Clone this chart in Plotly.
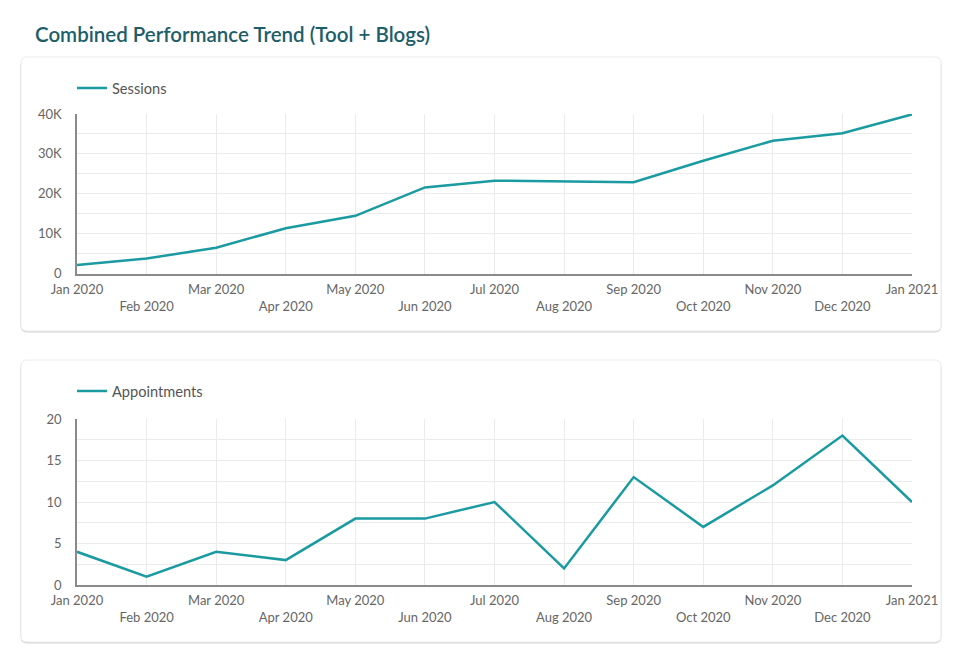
import plotly.graph_objects as go

months = ["Jan 2020", "Feb 2020", "Mar 2020", "Apr 2020", "May 2020", "Jun 2020",
          "Jul 2020", "Aug 2020", "Sep 2020", "Oct 2020", "Nov 2020", "Dec 2020", "Jan 2021"]
sessions = [2200, 3800, 6500, 11400, 14500, 21600, 23300, 23100, 22900, 28300, 33300, 35200, 39900]
appointments = [4, 1, 4, 3, 8, 8, 10, 2, 13, 7, 12, 18, 10]
session_ticks = [0, 10000, 20000, 30000, 40000]
session_ticktext = ["0", "10K", "20K", "30K", "40K"]
appt_ticks = [0, 5, 10, 15, 20]

W, H = 957, 661
LINE = "#1a9aa1"
FONT = "Lato"

def px(x):
    return x / W

def py(y):
    return 1 - y / H

tick_text = [m if i % 2 == 0 else "<br>" + m for i, m in enumerate(months)]

fig = go.Figure()
fig.add_trace(go.Scatter(x=months, y=sessions, mode="lines", name="Sessions",
                         line=dict(color=LINE, width=2.5), xaxis="x", yaxis="y",
                         legend="legend"))
fig.add_trace(go.Scatter(x=months, y=appointments, mode="lines", name="Appointments",
                         line=dict(color=LINE, width=2.5), xaxis="x2", yaxis="y2",
                         legend="legend2"))

def card_path(x0, y0, x1, y1, r=6):
    X = lambda v: f"{px(v):.5f}"
    Y = lambda v: f"{py(v):.5f}"
    return (f"M {X(x0+r)} {Y(y0)} L {X(x1-r)} {Y(y0)} Q {X(x1)} {Y(y0)} {X(x1)} {Y(y0+r)} "
            f"L {X(x1)} {Y(y1-r)} Q {X(x1)} {Y(y1)} {X(x1-r)} {Y(y1)} "
            f"L {X(x0+r)} {Y(y1)} Q {X(x0)} {Y(y1)} {X(x0)} {Y(y1-r)} "
            f"L {X(x0)} {Y(y0+r)} Q {X(x0)} {Y(y0)} {X(x0+r)} {Y(y0)} Z")

shapes = []
for (x0, y0, x1, y1) in [(21, 57, 941, 331), (21, 360, 941, 642)]:
    shapes.append(dict(type="path", path=card_path(x0 - 0.5, y0 + 0.5, x1 + 0.5, y1 + 1.5, 7),
                       xref="paper", yref="paper", fillcolor="#d4d4d4",
                       line=dict(width=0), layer="below"))
    shapes.append(dict(type="path", path=card_path(x0, y0, x1, y1, 6),
                       xref="paper", yref="paper", fillcolor="#ffffff",
                       line=dict(color="#ececec", width=1), layer="below"))

xaxis_common = dict(
    type="category", range=[0, 12], tickmode="array", tickvals=months, ticktext=tick_text,
    showgrid=True, gridcolor="#ebebeb", gridwidth=1, showline=True, linecolor="#8a8a8a",
    linewidth=1.5, ticks="", ticklabelstandoff=3,
    tickfont=dict(family=FONT, size=13, color="#666666"),
    tickangle=0, zeroline=False, fixedrange=True, automargin=False,
)
yaxis_common = dict(
    showgrid=True, gridcolor="#ebebeb", gridwidth=1, showline=True, linecolor="#8a8a8a",
    linewidth=1.5, ticks="", ticklabelstandoff=11, automargin=False,
    tickfont=dict(family=FONT, size=13, color="#666666"), zeroline=False,
)

fig.update_layout(
    width=W, height=H,
    margin=dict(l=0, r=0, t=0, b=0, pad=0, autoexpand=False),
    paper_bgcolor="#ffffff", plot_bgcolor="rgba(0,0,0,0)",
    font=dict(family=FONT, color="#666666"),
    shapes=shapes,
    xaxis=dict(xaxis_common, domain=[px(77), px(912)], anchor="y"),
    yaxis=dict(yaxis_common, domain=[py(273.7), py(114)], range=[0, 40000], anchor="x",
               tickvals=session_ticks, ticktext=session_ticktext,
               minor=dict(dtick=5000, showgrid=True, gridcolor="#ebebeb", tick0=0)),
    xaxis2=dict(xaxis_common, domain=[px(77), px(912)], anchor="y2"),
    yaxis2=dict(yaxis_common, domain=[py(585), py(419)], range=[0, 20], anchor="x2",
                tickvals=appt_ticks,
                minor=dict(dtick=2.5, showgrid=True, gridcolor="#ebebeb", tick0=0)),
    legend=dict(x=px(72), y=py(88), xanchor="left", yanchor="middle", orientation="h",
                font=dict(family=FONT, size=14.6, color="#555555"), bgcolor="rgba(0,0,0,0)"),
    legend2=dict(x=px(72), y=py(391), xanchor="left", yanchor="middle", orientation="h",
                 font=dict(family=FONT, size=14.6, color="#555555"), bgcolor="rgba(0,0,0,0)"),
    showlegend=True,
    annotations=[dict(text="Combined Performance Trend (Tool + Blogs)", x=px(33), y=py(34),
                      xref="paper", yref="paper", xanchor="left", yanchor="middle",
                      showarrow=False,
                      font=dict(family=FONT, size=20.5, color="#1d5e6a", weight=600))],
)

fig.write_html("out.html", config={"displayModeBar": False},
               post_script="document.body.style.margin='0px';")
